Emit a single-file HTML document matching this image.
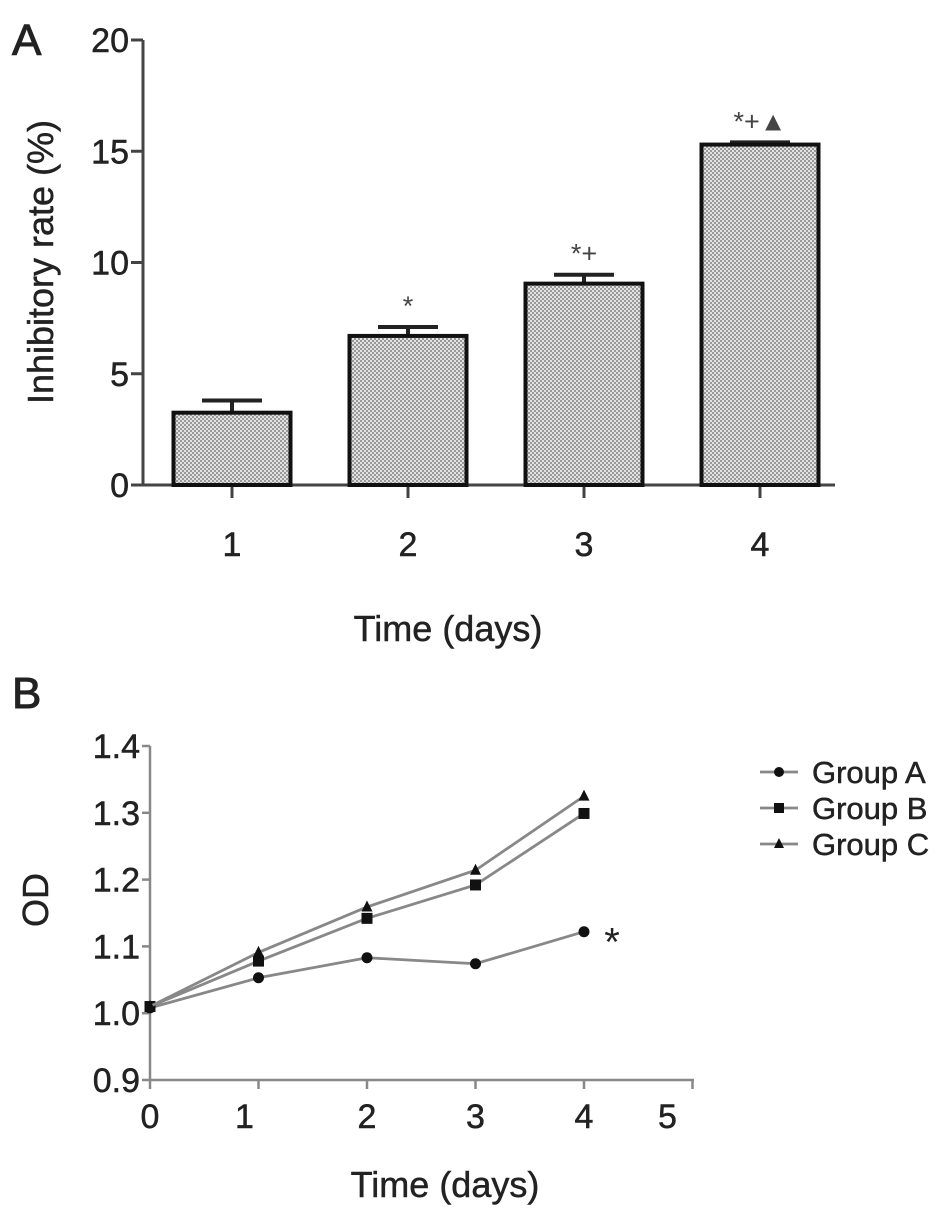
<!DOCTYPE html>
<html><head><meta charset="utf-8"><style>
html,body{margin:0;padding:0;background:#fff;}
svg{display:block;font-family:"Liberation Sans",sans-serif;}
</style></head><body>
<svg id="fig" width="945" height="1219" viewBox="0 0 945 1219">
<defs>
<pattern id="dots" width="4" height="4" patternUnits="userSpaceOnUse">
<rect width="4" height="4" fill="#e2e2e2"/>
<rect width="2" height="2" fill="#999"/>
<rect x="2" y="2" width="2" height="2" fill="#999"/>
</pattern>
</defs>
<text x="12" y="55" font-size="44" fill="#222" stroke="#222" stroke-width="1">A</text>
<g id="chartA"></g>
<text x="12" y="708" font-size="44" fill="#222" stroke="#222" stroke-width="1">B</text>
<g id="chartB"></g>
</svg>
<script>
const NS="http://www.w3.org/2000/svg";
function mk(parent,tag,attrs,text){const e=document.createElementNS(NS,tag);for(const k in attrs)e.setAttribute(k,attrs[k]);if(text!=null)e.textContent=text;parent.appendChild(e);return e;}
const TXT={fill:'#222',stroke:'#222','stroke-width':0.5};
function T(parent,attrs,text){return mk(parent,'text',Object.assign({},TXT,attrs),text);}

// ---- Chart A data
const barCats=["1","2","3","4"];
const barVals=[3.25,6.7,9.05,15.3];
const barErr=[0.55,0.4,0.4,0.1];
const barMarks=["","*","*+","*+▲"];
const aTicks=[0,5,10,15,20];

// ---- Chart B data
const lineX=[0,1,2,3,4];
const groupA=[1.008,1.053,1.083,1.074,1.122];
const groupB=[1.01,1.078,1.142,1.192,1.299];
const groupC=[1.01,1.091,1.159,1.214,1.325];
const bXTicks=[0,1,2,3,4,5];
const bYTicks=[0.9,1.0,1.1,1.2,1.3,1.4];
const bYLabels=["0.9","1.0","1.1","1.2","1.3","1.4"];
const groupNames=["Group A","Group B","Group C"];

// Chart A
(function(){
const g=document.getElementById('chartA');
const x0=143,y0=485,y1=40,vmax=20;
const ys=v=>y0-(v/vmax)*(y0-y1);
const c0=232,step=176;
const bw=117;
const xs=i=>c0+i*step;
let l=mk(g,'line',{x1:x0,y1:y1,x2:x0,y2:y0+1,stroke:'#444','stroke-width':3});


l=mk(g,'line',{x1:x0-12,y1:y0,x2:835,y2:y0,stroke:'#444','stroke-width':3});


aTicks.forEach(t=>{
 mk(g,'line',{x1:x0-12,y1:ys(t),x2:x0,y2:ys(t),stroke:'#444','stroke-width':3});
 const tx=T(g,{x:x0-14,y:ys(t)+12,'font-size':34,'text-anchor':'end'},String(t));
 
 
});
barVals.forEach((v,i)=>{
 const cx=xs(i);
 mk(g,'line',{x1:cx,y1:y0,x2:cx,y2:y0+13,stroke:'#444','stroke-width':3});
 const lab=T(g,{x:cx,y:y0+71,'font-size':34,'text-anchor':'middle'},barCats[i]);
 
 
 const et=ys(v+barErr[i]);
 mk(g,'line',{x1:cx,y1:ys(v),x2:cx,y2:et,stroke:'#222','stroke-width':4});
 const cap=mk(g,'line',{x1:cx-30,y1:et,x2:cx+30,y2:et,stroke:'#222','stroke-width':4});
 
 
 const r=mk(g,'rect',{x:cx-bw/2,y:ys(v),width:bw,height:y0-ys(v),fill:'url(#dots)',stroke:'#111','stroke-width':4});
 
 
 if(barMarks[i]){
  const m=mk(g,'text',{x:cx,y:et-12,'font-size':27,'text-anchor':'middle',fill:'#444'},barMarks[i]);
  
  
 }
});
const yt=T(g,{x:0,y:0,'font-size':36,'text-anchor':'middle',transform:'translate(53,262) rotate(-90)'},'Inhibitory rate (%)');


const xt=T(g,{x:448,y:641,'font-size':36,'text-anchor':'middle'},'Time (days)');


})();

// Chart B
(function(){
const g=document.getElementById('chartB');
const xL=150,xR=694,yB=1080,yT=746;
const xs=v=>xL+v*108.5;
const ys=v=>yB-(v-0.9)/(0.5)*(yB-yT);
const labShift=[0,-14,0,0,0,-25];
let l=mk(g,'line',{x1:xL,y1:yT,x2:xL,y2:yB,stroke:'#888','stroke-width':2.5});


l=mk(g,'line',{x1:xL,y1:yB,x2:xR,y2:yB,stroke:'#888','stroke-width':2.5});


bYTicks.forEach((t,i)=>{
 mk(g,'line',{x1:xL-8,y1:ys(t),x2:xL,y2:ys(t),stroke:'#888','stroke-width':2.5});
 const tx=T(g,{x:xL-10,y:ys(t)+12,'font-size':34,'text-anchor':'end'},bYLabels[i]);
 
 
});
bXTicks.forEach((t,i)=>{
 mk(g,'line',{x1:xs(t),y1:yB,x2:xs(t),y2:yB+9,stroke:'#888','stroke-width':2.5});
 const tx=T(g,{x:xs(t)+labShift[i],y:yB+48,'font-size':34,'text-anchor':'middle'},String(t));
 
 
});
const series=[groupA,groupB,groupC];
const shapes=['circle','square','triangle'];
function marker(parent,shape,x,y,s){
 if(shape==='circle')return mk(parent,'circle',{cx:x,cy:y,r:s,fill:'#111'});
 if(shape==='square')return mk(parent,'rect',{x:x-s,y:y-s,width:2*s,height:2*s,fill:'#111'});
 return mk(parent,'polygon',{points:`${x},${y-s-1} ${x-s},${y+s-1} ${x+s},${y+s-1}`,fill:'#111'});
}
series.forEach((d,si)=>{
 const pts=d.map((v,i)=>xs(lineX[i])+','+ys(v)).join(' ');
 const pl=mk(g,'polyline',{points:pts,fill:'none',stroke:'#888','stroke-width':2.8});
 
 
 d.forEach((v,i)=>{
  const m=marker(g,shapes[si],xs(lineX[i]),ys(v),5.5);
  
  
 });
 const ly=772+si*36;
 const ll=mk(g,'line',{x1:760,y1:ly,x2:798,y2:ly,stroke:'#888','stroke-width':2.8});
 
 
 marker(g,shapes[si],779,ly,5);
 const lt=T(g,{x:812,y:ly+11,'font-size':31},groupNames[si]);
 
 
});
const st=mk(g,'text',{x:612,y:ys(groupA[4])+24,'font-size':40,fill:'#222','text-anchor':'middle'},'*');


const yt=T(g,{x:0,y:0,'font-size':36,'text-anchor':'middle',transform:'translate(48,900) rotate(-90)'},'OD');


const xt=T(g,{x:445,y:1197,'font-size':36,'text-anchor':'middle'},'Time (days)');


})();
</script>
</body></html>
